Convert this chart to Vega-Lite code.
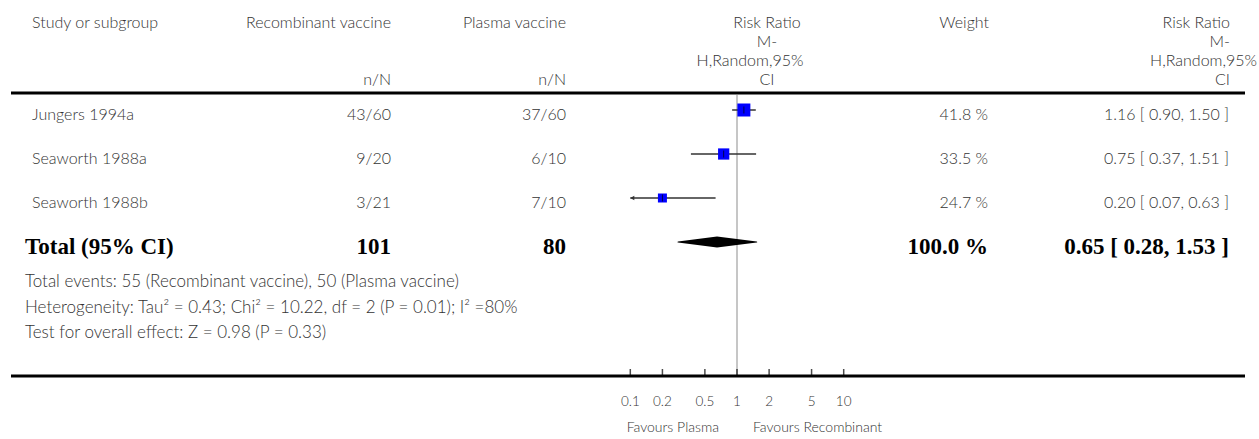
{
  "$schema": "https://vega.github.io/schema/vega-lite/v6.json",
  "width": 1234,
  "height": 439,
  "autosize": {"type": "none"},
  "padding": {"left": 11, "right": 14, "top": 0, "bottom": 0},
  "background": "white",
  "config": {
    "view": {"stroke": null},
    "text": {"font": "Lato", "fontSize": 16, "fontWeight": 300, "color": "#333", "baseline": "middle"}
  },
  "datasets": {
    "header": [
      {"line": "l1", "study": "Study or subgroup", "r": "Recombinant vaccine", "p": "Plasma vaccine", "rrm": "Risk Ratio", "w": "Weight", "rrr": "Risk Ratio"},
      {"line": "l2", "rrm": "M-", "rrr": "M-"},
      {"line": "l3", "rrm3": "H,Random,95%", "rrr3": "H,Random,95%"},
      {"line": "l4", "r": "n/N", "p": "n/N", "rrm": "CI", "rrr": "CI"}
    ],
    "body": [
      {"study": "Jungers 1994a", "rlab": "43/60", "plab": "37/60", "wlab": "41.8 %", "rrlab": "1.16 [ 0.90, 1.50 ]", "rr": 1.16, "lo": 0.90, "hi": 1.50, "weight": 41.8, "total": false},
      {"study": "Seaworth 1988a", "rlab": "9/20", "plab": "6/10", "wlab": "33.5 %", "rrlab": "0.75 [ 0.37, 1.51 ]", "rr": 0.75, "lo": 0.37, "hi": 1.51, "weight": 33.5, "total": false},
      {"study": "Seaworth 1988b", "rlab": "3/21", "plab": "7/10", "wlab": "24.7 %", "rrlab": "0.20 [ 0.07, 0.63 ]", "rr": 0.20, "lo": 0.07, "hi": 0.63, "weight": 24.7, "total": false},
      {"study": "Total (95% CI)", "rlab": "101", "plab": "80", "wlab": "100.0 %", "rrlab": "0.65 [ 0.28, 1.53 ]", "rr": 0.65, "lo": 0.28, "hi": 1.53, "weight": 100, "total": true}
    ],
    "notes": [
      {"k": "n1", "t": "Total events: 55 (Recombinant vaccine), 50 (Plasma vaccine)"},
      {"k": "n2", "t": "Heterogeneity: Tau² = 0.43; Chi² = 10.22, df = 2 (P = 0.01); I² =80%"},
      {"k": "n3", "t": "Test for overall effect: Z = 0.98 (P = 0.33)"}
    ],
    "ticks": [
      {"v": 0.1, "lab": "0.1"}, {"v": 0.2, "lab": "0.2"}, {"v": 0.5, "lab": "0.5"},
      {"v": 1, "lab": "1"}, {"v": 2, "lab": "2"}, {"v": 5, "lab": "5"}, {"v": 10, "lab": "10"}
    ],
    "favours": [
      {"side": "left", "t": "Favours Plasma"},
      {"side": "right", "t": "Favours Recombinant"}
    ]
  },
  "resolve": {"scale": {"x": "independent", "y": "independent"}},
  "layer": [
    {
      "data": {"name": "ticks"},
      "transform": [{"filter": "datum.v === 1"}],
      "mark": {"type": "rule", "color": "#b3b3b3", "strokeWidth": 1.5},
      "encoding": {
        "x": {"field": "v", "type": "quantitative", "scale": {"type": "log", "domain": [0.1, 10], "range": [619.3, 832.7], "clamp": true, "nice": false}, "axis": null},
        "y": {"datum": 0, "type": "quantitative", "scale": {"type": "linear", "domain": [0, 1], "range": [376, 95], "nice": false, "zero": false}, "axis": null},
        "y2": {"datum": 1}
      }
    },
    {
      "data": {"name": "header"},
      "encoding": {
        "y": {"field": "line", "type": "nominal", "scale": {"type": "point", "domain": ["l1", "l2", "l3", "l4"], "range": [23, 80], "padding": 0}, "axis": null}
      },
      "layer": [
        {"transform": [{"filter": "isValid(datum.study)"}], "mark": {"type": "text", "align": "left"},
         "encoding": {"x": {"datum": 32, "type": "quantitative", "scale": {"type": "linear", "domain": [11, 1245], "range": [0, 1234], "nice": false, "zero": false}, "axis": null}, "text": {"field": "study"}}},
        {"transform": [{"filter": "isValid(datum.r)"}], "mark": {"type": "text", "align": "right"},
         "encoding": {"x": {"datum": 391, "type": "quantitative", "scale": {"type": "linear", "domain": [11, 1245], "range": [0, 1234], "nice": false, "zero": false}, "axis": null}, "text": {"field": "r"}}},
        {"transform": [{"filter": "isValid(datum.p)"}], "mark": {"type": "text", "align": "right"},
         "encoding": {"x": {"datum": 566, "type": "quantitative", "scale": {"type": "linear", "domain": [11, 1245], "range": [0, 1234], "nice": false, "zero": false}, "axis": null}, "text": {"field": "p"}}},
        {"transform": [{"filter": "isValid(datum.rrm)"}], "mark": {"type": "text", "align": "center"},
         "encoding": {"x": {"datum": 767, "type": "quantitative", "scale": {"type": "linear", "domain": [11, 1245], "range": [0, 1234], "nice": false, "zero": false}, "axis": null}, "text": {"field": "rrm"}}},
        {"transform": [{"filter": "isValid(datum.rrm3)"}], "mark": {"type": "text", "align": "center"},
         "encoding": {"x": {"datum": 750, "type": "quantitative", "scale": {"type": "linear", "domain": [11, 1245], "range": [0, 1234], "nice": false, "zero": false}, "axis": null}, "text": {"field": "rrm3"}}},
        {"transform": [{"filter": "isValid(datum.w)"}], "mark": {"type": "text", "align": "right"},
         "encoding": {"x": {"datum": 989, "type": "quantitative", "scale": {"type": "linear", "domain": [11, 1245], "range": [0, 1234], "nice": false, "zero": false}, "axis": null}, "text": {"field": "w"}}},
        {"transform": [{"filter": "isValid(datum.rrr)"}], "mark": {"type": "text", "align": "right"},
         "encoding": {"x": {"datum": 1230, "type": "quantitative", "scale": {"type": "linear", "domain": [11, 1245], "range": [0, 1234], "nice": false, "zero": false}, "axis": null}, "text": {"field": "rrr"}}},
        {"transform": [{"filter": "isValid(datum.rrr3)"}], "mark": {"type": "text", "align": "right"},
         "encoding": {"x": {"datum": 1257, "type": "quantitative", "scale": {"type": "linear", "domain": [11, 1245], "range": [0, 1234], "nice": false, "zero": false}, "axis": null}, "text": {"field": "rrr3"}}},
        {"transform": [{"filter": "datum.line === 'l4'"}], "mark": {"type": "rule", "color": "#000", "strokeWidth": 3, "yOffset": 13},
         "encoding": {"y": {"datum": "l4", "type": "nominal"}}}
      ]
    },
    {
      "data": {"name": "body"},
      "resolve": {"scale": {"x": "independent", "size": "independent"}},
      "encoding": {
        "y": {"field": "study", "type": "nominal", "scale": {"type": "point", "domain": ["Jungers 1994a", "Seaworth 1988a", "Seaworth 1988b", "Total (95% CI)"], "range": [110, 242], "padding": 0}, "axis": null}
      },
      "layer": [
        {"transform": [{"filter": "!datum.total"}], "mark": {"type": "rule", "color": "#333", "strokeWidth": 1.5},
         "encoding": {"x": {"field": "lo", "type": "quantitative", "scale": {"type": "log", "domain": [0.1, 10], "range": [619.3, 832.7], "clamp": true, "nice": false}, "axis": null}, "x2": {"field": "hi"}}},
        {"transform": [{"filter": "datum.lo < 0.1"}], "mark": {"type": "point", "shape": "triangle-left", "filled": true, "color": "#333", "size": 22, "opacity": 1, "xOffset": 2},
         "encoding": {"x": {"field": "lo", "type": "quantitative", "scale": {"type": "log", "domain": [0.1, 10], "range": [619.3, 832.7], "clamp": true, "nice": false}, "axis": null}}},
        {"transform": [{"filter": "!datum.total"}], "mark": {"type": "square", "color": "#0000ff", "opacity": 1},
         "encoding": {"x": {"field": "rr", "type": "quantitative", "scale": {"type": "log", "domain": [0.1, 10], "range": [619.3, 832.7], "clamp": true, "nice": false}, "axis": null},
                      "size": {"field": "weight", "type": "quantitative", "scale": {"type": "linear", "domain": [24.7, 41.8], "range": [81, 169], "zero": false}, "legend": null}}},
        {"transform": [{"filter": "!datum.total"}], "mark": {"type": "tick", "orient": "vertical", "color": "#000", "thickness": 1, "size": 7},
         "encoding": {"x": {"field": "rr", "type": "quantitative", "scale": {"type": "log", "domain": [0.1, 10], "range": [619.3, 832.7], "clamp": true, "nice": false}, "axis": null}}},
        {"transform": [{"filter": "datum.total"}, {"fold": ["lo", "rr", "hi"], "as": ["key", "value"]}], "mark": {"type": "trail", "color": "#000"},
         "encoding": {"x": {"field": "value", "type": "quantitative", "scale": {"type": "log", "domain": [0.1, 10], "range": [619.3, 832.7], "clamp": true, "nice": false}, "axis": null},
                      "size": {"field": "key", "type": "nominal", "scale": {"type": "ordinal", "domain": ["lo", "rr", "hi"], "range": [0, 11, 0]}, "legend": null},
                      "order": {"field": "value", "type": "quantitative"}}},
        {"transform": [{"filter": "!datum.total"}], "mark": {"type": "text", "align": "left", "dy": 5},
         "encoding": {"x": {"datum": 32, "type": "quantitative", "scale": {"type": "linear", "domain": [11, 1245], "range": [0, 1234], "nice": false, "zero": false}, "axis": null}, "text": {"field": "study"}}},
        {"transform": [{"filter": "!datum.total"}], "mark": {"type": "text", "align": "right", "dy": 5},
         "encoding": {"x": {"datum": 391, "type": "quantitative", "scale": {"type": "linear", "domain": [11, 1245], "range": [0, 1234], "nice": false, "zero": false}, "axis": null}, "text": {"field": "rlab"}}},
        {"transform": [{"filter": "!datum.total"}], "mark": {"type": "text", "align": "right", "dy": 5},
         "encoding": {"x": {"datum": 566, "type": "quantitative", "scale": {"type": "linear", "domain": [11, 1245], "range": [0, 1234], "nice": false, "zero": false}, "axis": null}, "text": {"field": "plab"}}},
        {"transform": [{"filter": "!datum.total"}], "mark": {"type": "text", "align": "right", "dy": 5},
         "encoding": {"x": {"datum": 988, "type": "quantitative", "scale": {"type": "linear", "domain": [11, 1245], "range": [0, 1234], "nice": false, "zero": false}, "axis": null}, "text": {"field": "wlab"}}},
        {"transform": [{"filter": "!datum.total"}], "mark": {"type": "text", "align": "right", "dy": 5},
         "encoding": {"x": {"datum": 1229, "type": "quantitative", "scale": {"type": "linear", "domain": [11, 1245], "range": [0, 1234], "nice": false, "zero": false}, "axis": null}, "text": {"field": "rrlab"}}},
        {"transform": [{"filter": "datum.total"}], "mark": {"type": "text", "align": "left", "dy": 5, "font": "Liberation Serif", "fontWeight": "bold", "fontSize": 23, "color": "#000"},
         "encoding": {"x": {"datum": 25, "type": "quantitative", "scale": {"type": "linear", "domain": [11, 1245], "range": [0, 1234], "nice": false, "zero": false}, "axis": null}, "text": {"field": "study"}}},
        {"transform": [{"filter": "datum.total"}], "mark": {"type": "text", "align": "right", "dy": 5, "font": "Liberation Serif", "fontWeight": "bold", "fontSize": 23, "color": "#000"},
         "encoding": {"x": {"datum": 391, "type": "quantitative", "scale": {"type": "linear", "domain": [11, 1245], "range": [0, 1234], "nice": false, "zero": false}, "axis": null}, "text": {"field": "rlab"}}},
        {"transform": [{"filter": "datum.total"}], "mark": {"type": "text", "align": "right", "dy": 5, "font": "Liberation Serif", "fontWeight": "bold", "fontSize": 23, "color": "#000"},
         "encoding": {"x": {"datum": 566, "type": "quantitative", "scale": {"type": "linear", "domain": [11, 1245], "range": [0, 1234], "nice": false, "zero": false}, "axis": null}, "text": {"field": "plab"}}},
        {"transform": [{"filter": "datum.total"}], "mark": {"type": "text", "align": "right", "dy": 5, "font": "Liberation Serif", "fontWeight": "bold", "fontSize": 23, "color": "#000"},
         "encoding": {"x": {"datum": 988, "type": "quantitative", "scale": {"type": "linear", "domain": [11, 1245], "range": [0, 1234], "nice": false, "zero": false}, "axis": null}, "text": {"field": "wlab"}}},
        {"transform": [{"filter": "datum.total"}], "mark": {"type": "text", "align": "right", "dy": 5, "font": "Liberation Serif", "fontWeight": "bold", "fontSize": 23, "color": "#000"},
         "encoding": {"x": {"datum": 1229, "type": "quantitative", "scale": {"type": "linear", "domain": [11, 1245], "range": [0, 1234], "nice": false, "zero": false}, "axis": null}, "text": {"field": "rrlab"}}}
      ]
    },
    {
      "data": {"name": "notes"},
      "mark": {"type": "text", "align": "left", "fontSize": 17},
      "encoding": {
        "y": {"field": "k", "type": "nominal", "scale": {"type": "point", "domain": ["n1", "n2", "n3"], "range": [282, 333], "padding": 0}, "axis": null},
        "x": {"datum": 25, "type": "quantitative", "scale": {"type": "linear", "domain": [11, 1245], "range": [0, 1234], "nice": false, "zero": false}, "axis": null},
        "text": {"field": "t"}
      }
    },
    {
      "data": {"name": "ticks"},
      "encoding": {
        "y": {"field": "lab", "type": "nominal", "scale": {"type": "point", "domain": ["axis", "labels", "favours"], "range": [376, 428], "padding": 0}, "axis": null}
      },
      "layer": [
        {"transform": [{"filter": "datum.v === 1"}], "mark": {"type": "rule", "color": "#000", "strokeWidth": 3},
         "encoding": {"y": {"datum": "axis", "type": "nominal"}}},
        {"mark": {"type": "tick", "orient": "vertical", "color": "#000", "thickness": 1.5, "size": 7, "yOffset": -3.5},
         "encoding": {"x": {"field": "v", "type": "quantitative", "scale": {"type": "log", "domain": [0.1, 10], "range": [619.3, 832.7], "clamp": true, "nice": false}, "axis": null},
                      "y": {"datum": "axis", "type": "nominal"}}},
        {"mark": {"type": "text", "align": "center", "fontSize": 13.5},
         "encoding": {"x": {"field": "v", "type": "quantitative", "scale": {"type": "log", "domain": [0.1, 10], "range": [619.3, 832.7], "clamp": true, "nice": false}, "axis": null},
                      "y": {"datum": "labels", "type": "nominal"}, "text": {"field": "lab"}}},
        {"data": {"name": "favours"}, "transform": [{"filter": "datum.side === 'left'"}], "mark": {"type": "text", "align": "right", "dx": -18, "fontSize": 14},
         "encoding": {"x": {"datum": 1, "type": "quantitative", "scale": {"type": "log", "domain": [0.1, 10], "range": [619.3, 832.7], "clamp": true, "nice": false}, "axis": null},
                      "y": {"datum": "favours", "type": "nominal"}, "text": {"field": "t"}}},
        {"data": {"name": "favours"}, "transform": [{"filter": "datum.side === 'right'"}], "mark": {"type": "text", "align": "left", "dx": 16, "fontSize": 14},
         "encoding": {"x": {"datum": 1, "type": "quantitative", "scale": {"type": "log", "domain": [0.1, 10], "range": [619.3, 832.7], "clamp": true, "nice": false}, "axis": null},
                      "y": {"datum": "favours", "type": "nominal"}, "text": {"field": "t"}}}
      ]
    }
  ]
}
